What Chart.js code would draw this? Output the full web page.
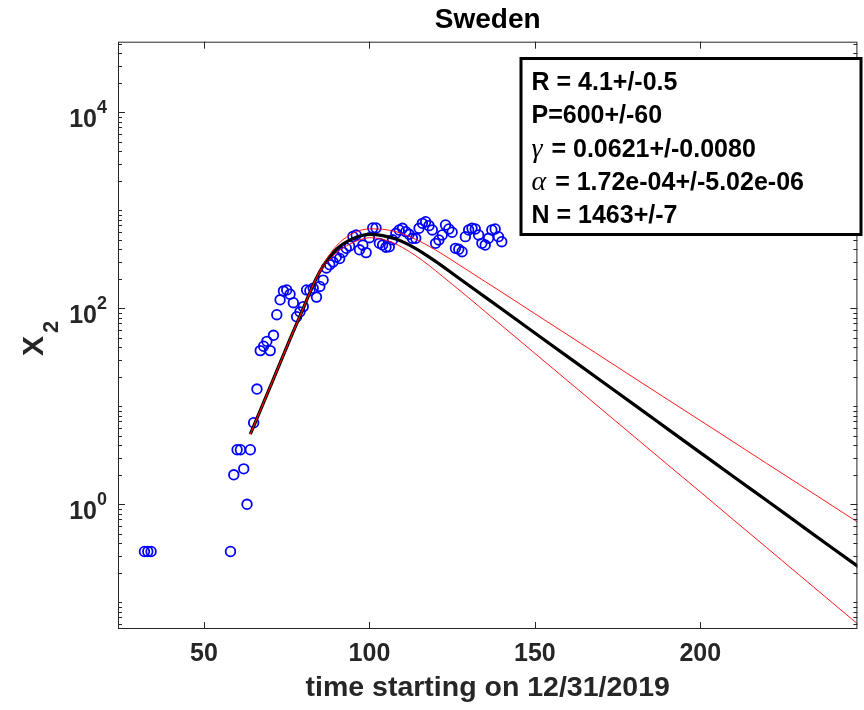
<!DOCTYPE html>
<html>
<head>
<meta charset="utf-8">
<title>Sweden</title>
<script src="https://cdn.jsdelivr.net/npm/chart.js@4.4.1/dist/chart.umd.min.js"></script>
<style>
  html, body { margin: 0; padding: 0; background: #fff; }
</style>
</head>
<body>
<canvas id="chart" width="864" height="710"></canvas>
<script>
// observed daily values
const days = [32, 33, 34, 58, 59, 60, 61, 62, 63, 64, 65, 66, 67, 68, 69, 70, 71, 72, 73, 74,
  75, 76, 77, 78, 79, 80, 81, 82, 83, 84, 85, 86, 87, 88, 89, 90, 91, 92, 93, 94,
  95, 96, 97, 98, 99, 100, 101, 102, 103, 104, 105, 106, 107, 108, 109, 110, 111, 112, 113, 114,
  115, 116, 117, 118, 119, 120, 121, 122, 123, 124, 125, 126, 127, 128, 129, 130, 131, 132, 133, 134,
  135, 136, 137, 138, 139, 140];
const cases = [0.33, 0.33, 0.33, 0.33, 2.0, 3.6, 3.6, 2.3, 1.0, 3.6, 6.8, 15, 37, 41, 46, 37, 53, 86, 122, 150,
  154, 139, 114, 82, 92, 104, 154, 151, 160, 130, 167, 194, 258, 278, 297, 333, 322, 373, 410, 433,
  540, 560, 395, 442, 370, 525, 660, 660, 460, 442, 420, 425, 500, 582, 629, 655, 605, 569, 518, 518,
  655, 736, 765, 697, 630, 460, 498, 560, 708, 645, 597, 409, 400, 378, 538, 629, 655, 645, 560, 460,
  442, 518, 629, 645, 538, 478];

// model fit and its bounds
const fitDays = [64, 68, 72, 76, 80, 82, 84, 86, 88, 90, 92, 96, 100, 104, 108, 112, 116, 120, 125, 130,
  135, 140, 150, 160, 170, 180, 190, 200, 210, 220, 230, 240, 248];
const fitBest = [5.2, 10.9, 23.0, 48.4, 100, 145, 204, 269, 335, 398, 452, 531, 568, 552, 508, 443, 370, 301, 228, 172,
  130, 98.2, 56.0, 31.9, 18.2, 10.4, 5.92, 3.37, 1.92, 1.10, 0.625, 0.356, 0.228];
const fitUpper = [5.2, 10.9, 23.0, 48.4, 100, 145, 207, 279, 355, 432, 501, 603, 646, 640, 605, 542, 468, 393, 309, 240,
  187, 146, 88.1, 53.3, 32.3, 19.5, 11.8, 7.16, 4.34, 2.62, 1.59, 0.962, 0.644];
const fitLower = [5.2, 10.9, 23.0, 48.4, 100, 145, 202, 260, 316, 367, 412, 484, 525, 506, 453, 380, 308, 242, 176, 128,
  92.3, 66.6, 34.7, 18.1, 9.43, 4.91, 2.56, 1.34, 0.696, 0.363, 0.189, 0.0985, 0.0585];

const xTicks = [50, 100, 150, 200];
const yLabelExponents = [0, 2, 4];
const fitSymbols = ['', '', 'γ', 'α', ''];
const fitTexts = ['R = 4.1+/-0.5', 'P=600+/-60', ' = 0.0621+/-0.0080', ' = 1.72e-04+/-5.02e-06', 'N = 1463+/-7'];

const axisColor = '#262626';
const sans = '"Liberation Sans", Arial, Helvetica, sans-serif';
const serif = '"Liberation Serif", "Times New Roman", serif';

const toPoints = (xs, ys) => xs.map((x, i) => ({ x, y: ys[i] }));

// inward tick marks, box, y labels, y title and parameter box
const decorations = {
  id: 'decorations',
  afterDraw(chart) {
    const { ctx, chartArea: a, scales: { x, y } } = chart;
    const line = (x1, y1, x2, y2) => {
      ctx.beginPath(); ctx.moveTo(x1, y1); ctx.lineTo(x2, y2); ctx.stroke();
    };
    ctx.save();
    ctx.strokeStyle = axisColor;
    ctx.lineWidth = 1;
    ctx.strokeRect(a.left + 0.5, a.top + 0.5, a.right - a.left - 1, a.bottom - a.top - 1);

    y.ticks.forEach(t => {
      const py = Math.round(y.getPixelForValue(t.value)) + 0.5;
      const e = Math.log10(t.value);
      const major = Math.abs(e - Math.round(e)) < 1e-6 && yLabelExponents.includes(Math.round(e));
      const len = major ? 7 : 4;
      line(a.left, py, a.left + len, py);
      line(a.right, py, a.right - len, py);
    });
    x.ticks.forEach(t => {
      const px = Math.round(x.getPixelForValue(t.value)) + 0.5;
      line(px, a.bottom, px, a.bottom - 7);
      line(px, a.top, px, a.top + 7);
    });

    ctx.fillStyle = axisColor;
    yLabelExponents.forEach(k => {
      const py = y.getPixelForValue(Math.pow(10, k));
      ctx.font = `bold 25px ${sans}`;
      ctx.textAlign = 'right';
      ctx.textBaseline = 'alphabetic';
      ctx.fillText('10', a.left - 21, py + 15);
      ctx.font = `bold 18px ${sans}`;
      ctx.textAlign = 'left';
      ctx.fillText(String(k), a.left - 21, py + 1);
    });

    // y axis title X_2
    ctx.save();
    ctx.translate(43, 356);
    ctx.rotate(-Math.PI / 2);
    ctx.font = `bold 30px ${sans}`;
    ctx.textAlign = 'left';
    ctx.textBaseline = 'alphabetic';
    ctx.fillText('X', 0, 0);
    const xw = ctx.measureText('X').width;
    ctx.font = `bold 22px ${sans}`;
    ctx.fillText('2', xw + 3, 15);
    ctx.restore();

    // parameter box
    const bx = 521, by = 58.5, bw = 340, bh = 176;
    ctx.fillStyle = '#fff';
    ctx.fillRect(bx, by, bw, bh);
    ctx.strokeStyle = '#000';
    ctx.lineWidth = 3;
    ctx.strokeRect(bx, by, bw, bh);
    ctx.fillStyle = '#000';
    ctx.textAlign = 'left';
    ctx.textBaseline = 'alphabetic';
    fitTexts.forEach((txt, i) => {
      let tx = 531.5;
      const base = 90 + i * 33.35;
      if (fitSymbols[i]) {
        ctx.font = `italic 28px ${serif}`;
        ctx.fillText(fitSymbols[i], tx, base);
        tx += ctx.measureText(fitSymbols[i]).width + 2;
      }
      ctx.font = `bold 25px ${sans}`;
      ctx.fillText(txt, tx, base);
    });
    ctx.restore();
  }
};

new Chart(document.getElementById('chart'), {
  type: 'scatter',
  data: {
    datasets: [
      {
        label: 'upper',
        data: toPoints(fitDays, fitUpper),
        showLine: true,
        borderColor: 'rgba(255,0,0,0.9)',
        borderWidth: 1,
        pointRadius: 0,
        cubicInterpolationMode: 'monotone',
        order: 0
      },
      {
        label: 'lower',
        data: toPoints(fitDays, fitLower),
        showLine: true,
        borderColor: 'rgba(255,0,0,0.9)',
        borderWidth: 1,
        pointRadius: 0,
        cubicInterpolationMode: 'monotone',
        order: 0
      },
      {
        label: 'fit',
        data: toPoints(fitDays, fitBest),
        showLine: true,
        borderColor: '#000',
        borderWidth: 3.2,
        pointRadius: 0,
        cubicInterpolationMode: 'monotone',
        order: 1
      },
      {
        label: 'data',
        data: toPoints(days, cases),
        showLine: false,
        pointStyle: 'circle',
        pointRadius: 4.8,
        borderWidth: 1.8,
        borderColor: '#0000ff',
        backgroundColor: 'rgba(0,0,0,0)',
        order: 2
      }
    ]
  },
  options: {
    responsive: false,
    animation: false,
    events: [],
    layout: { padding: { left: 0, right: 1, top: 0, bottom: 0 } },
    plugins: {
      legend: { display: false },
      tooltip: { enabled: false },
      title: {
        display: true,
        fullSize: false,
        text: 'Sweden',
        color: '#000',
        font: { family: sans, size: 28, weight: 'bold' },
        padding: { top: 3.5, bottom: 4.6 }
      }
    },
    scales: {
      x: {
        type: 'linear',
        min: 24,
        max: 247.5,
        afterBuildTicks: s => { s.ticks = xTicks.map(v => ({ value: v })); },
        afterFit: s => { s.height = 81; },
        grid: { display: false, drawTicks: false },
        border: { display: false },
        ticks: {
          color: axisColor,
          padding: 10,
          maxRotation: 0,
          font: { family: sans, size: 25, weight: 'bold' }
        },
        title: {
          display: true,
          text: 'time starting on 12/31/2019',
          color: axisColor,
          font: { family: sans, size: 28.5, weight: 'bold' },
          padding: { top: 0, bottom: 5 }
        }
      },
      y: {
        type: 'logarithmic',
        min: 0.0534,
        max: 52500,
        afterBuildTicks: s => {
          const ticks = [];
          for (let k = -2; k <= 4; k++) {
            for (let m = 1; m <= 9; m++) {
              const v = m * Math.pow(10, k);
              if (v >= s.min && v <= s.max) ticks.push({ value: v });
            }
          }
          s.ticks = ticks;
        },
        afterFit: s => { s.width = 118; },
        grid: { display: false, drawTicks: false },
        border: { display: false },
        ticks: { display: false }
      }
    }
  },
  plugins: [decorations]
});
</script>
</body>
</html>
